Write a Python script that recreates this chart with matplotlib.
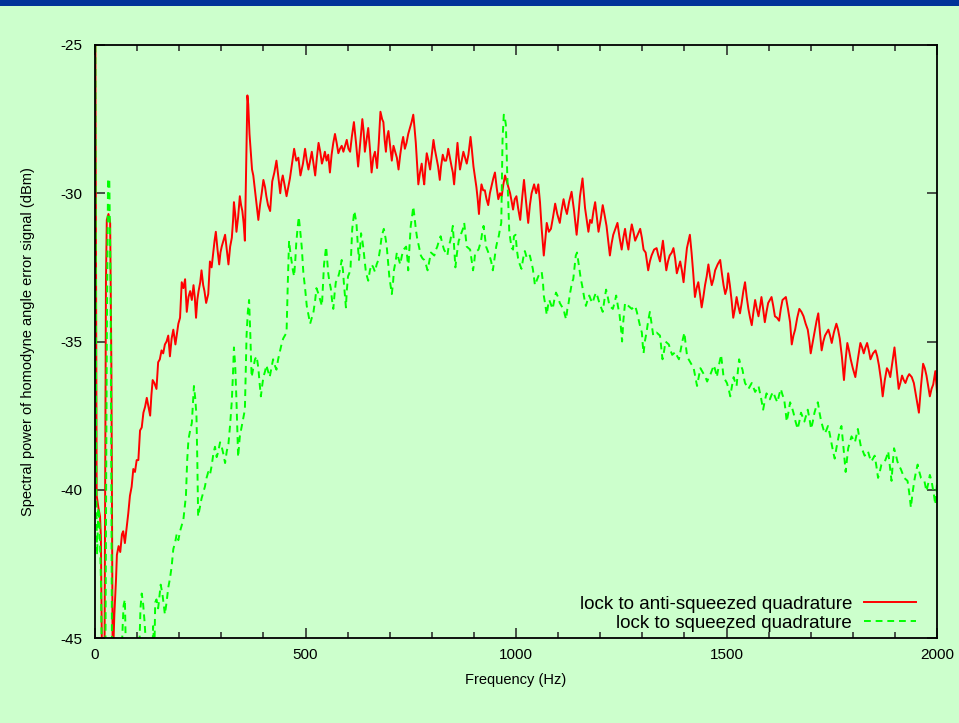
import numpy as np
import matplotlib
matplotlib.use("Agg")
import matplotlib.pyplot as plt
from matplotlib.patches import Rectangle
from matplotlib.ticker import MultipleLocator

plt.rcParams['font.family'] = ['Liberation Sans', 'DejaVu Sans']
plt.rcParams['axes.unicode_minus'] = False

# (frequency in Hz, spectral power in dBm)
anti_squeezed = [
    (0, -20), (4, -40.2), (8, -40.6), (12, -40.9), (14, -41.6), (18, -48), (22, -48),
    (26, -33), (28, -30.9), (32, -30.7), (36, -31.0), (39, -36), (42, -46), (46, -44.2),
    (50, -43.0), (52, -42.2), (56, -41.9), (60, -42.1), (64, -41.5), (67, -41.4), (71, -41.8),
    (75, -41.3), (79, -40.8), (83, -40.2), (87, -39.9), (91, -39.3), (95, -39.4), (99, -39.0),
    (103, -39.0), (107, -38.0), (111, -37.9), (115, -37.4), (119, -37.2), (123, -36.9),
    (127, -37.2), (131, -37.5), (134, -36.8), (137, -36.3), (141, -36.4), (146, -36.6),
    (150, -35.7), (154, -35.6), (158, -35.3), (162, -35.4), (166, -35.1), (170, -35.0),
    (174, -34.8), (178, -35.5), (182, -34.9), (186, -34.6), (191, -35.1), (195, -34.7),
    (198, -34.4), (202, -34.2), (206, -33.0), (210, -33.2), (214, -32.9), (218, -34.0),
    (222, -33.5), (226, -33.3), (230, -33.6), (234, -33.1), (237, -33.5), (240, -34.2),
    (243, -33.6), (246, -33.3), (250, -33.0), (253, -32.6), (257, -33.1), (260, -33.3),
    (264, -33.7), (269, -33.4), (273, -32.3), (277, -32.5), (281, -32.0), (284, -31.6),
    (287, -31.3), (291, -31.9), (295, -32.4), (298, -32.0), (301, -31.8), (305, -31.6),
    (309, -31.4), (313, -31.9), (317, -32.4), (321, -31.8), (325, -31.5), (328, -30.9),
    (330, -30.3), (333, -30.7), (336, -31.3), (340, -30.8), (344, -30.1), (347, -30.4),
    (350, -30.6), (353, -31.0), (356, -31.6), (358, -30.0), (360, -28.3), (362, -26.7),
    (364, -27.0), (367, -28.0), (370, -28.6), (373, -29.2), (376, -29.4), (380, -29.9),
    (384, -30.4), (388, -30.9), (392, -30.4), (396, -30.0), (400, -29.55), (404, -29.8),
    (407, -30.1), (411, -30.4), (416, -30.6), (421, -29.6), (426, -29.3), (431, -28.9),
    (435, -29.4), (440, -30.0), (443, -29.6), (446, -29.4), (450, -29.7), (455, -30.1),
    (459, -29.8), (463, -29.5), (468, -29.0), (473, -28.5), (478, -28.9), (483, -28.8),
    (488, -29.4), (494, -29.0), (499, -28.5), (503, -28.9), (507, -29.2), (511, -28.9),
    (515, -28.6), (519, -29.0), (523, -29.4), (527, -28.8), (531, -28.3), (535, -28.6),
    (539, -29.0), (543, -28.8), (546, -28.6), (550, -28.9), (554, -28.7), (558, -29.3),
    (562, -28.7), (566, -28.3), (570, -28.0), (574, -28.3), (578, -28.65), (582, -28.5),
    (586, -28.4), (590, -28.6), (594, -28.4), (598, -28.2), (602, -28.5), (606, -28.6),
    (610, -28.1), (615, -27.6), (620, -28.3), (625, -29.1), (630, -28.3), (635, -27.5),
    (638, -27.9), (641, -28.6), (645, -28.2), (649, -27.8), (653, -28.5), (657, -29.3),
    (661, -28.8), (665, -28.6), (670, -29.15), (674, -28.3), (678, -27.25), (682, -27.5),
    (685, -27.6), (688, -28.2), (691, -28.6), (694, -28.1), (697, -27.9), (701, -28.4),
    (705, -28.9), (709, -28.4), (713, -28.6), (717, -28.8), (721, -29.2), (725, -28.7),
    (729, -28.3), (732, -28.1), (736, -28.5), (740, -28.3), (744, -28.0), (748, -27.8),
    (752, -27.6), (756, -27.35), (759, -27.8), (762, -28.3), (765, -29.0), (768, -29.7),
    (772, -29.3), (776, -29.0), (779, -29.4), (782, -29.7), (785, -29.1), (788, -28.65),
    (792, -28.9), (796, -29.2), (800, -28.7), (804, -28.2), (807, -28.5), (811, -28.8),
    (815, -29.1), (819, -29.55), (822, -29.1), (826, -28.7), (830, -28.9), (834, -28.9),
    (837, -28.7), (839, -28.5), (843, -28.8), (847, -29.1), (850, -29.3), (853, -29.7),
    (857, -29.0), (861, -28.3), (864, -28.8), (867, -29.2), (871, -28.9), (875, -28.6),
    (879, -28.8), (883, -29.0), (887, -28.7), (892, -28.1), (895, -28.5), (899, -29.1),
    (903, -29.5), (906, -29.8), (909, -30.2), (912, -30.7), (915, -30.1), (918, -29.7),
    (922, -29.9), (926, -29.9), (930, -30.2), (934, -30.4), (938, -30.0), (942, -29.75),
    (946, -29.5), (950, -29.3), (954, -29.8), (958, -30.2), (962, -30.0), (966, -30.1),
    (970, -29.7), (974, -29.4), (978, -29.6), (982, -29.8), (986, -30.0), (990, -30.3),
    (993, -30.55), (997, -30.2), (1001, -30.1), (1005, -30.5), (1010, -30.9), (1015, -30.1),
    (1019, -29.55), (1024, -30.3), (1029, -31.0), (1033, -30.4), (1037, -30.0), (1043, -29.7),
    (1048, -30.0), (1053, -29.7), (1057, -30.3), (1061, -31.2), (1066, -32.1), (1070, -31.5),
    (1073, -31.0), (1078, -31.3), (1083, -31.2), (1088, -30.8), (1093, -30.35), (1098, -30.7),
    (1104, -31.0), (1108, -30.6), (1113, -30.2), (1117, -30.5), (1121, -30.7), (1126, -30.3),
    (1132, -29.95), (1138, -30.6), (1144, -31.4), (1148, -30.8), (1152, -30.1), (1158, -29.5),
    (1161, -30.0), (1164, -30.5), (1168, -30.9), (1172, -31.3), (1176, -30.9), (1180, -31.0),
    (1184, -30.6), (1188, -30.3), (1192, -30.8), (1196, -31.3), (1201, -30.9), (1206, -30.4),
    (1210, -30.7), (1215, -31.1), (1219, -31.6), (1223, -32.1), (1227, -31.7), (1231, -31.4),
    (1236, -31.2), (1241, -31.0), (1246, -31.5), (1251, -31.9), (1255, -31.5), (1259, -31.2),
    (1263, -31.6), (1267, -31.9), (1271, -31.4), (1275, -31.05), (1279, -31.3), (1283, -31.6),
    (1289, -31.4), (1295, -31.2), (1299, -31.5), (1303, -31.9), (1308, -32.0), (1314, -32.6),
    (1318, -32.3), (1322, -32.1), (1328, -31.9), (1334, -31.85), (1338, -32.1), (1342, -32.3),
    (1346, -31.9), (1349, -31.6), (1353, -32.1), (1357, -32.6), (1361, -32.3), (1365, -32.1),
    (1370, -32.0), (1374, -31.85), (1378, -32.2), (1382, -32.7), (1386, -32.5), (1390, -32.3),
    (1394, -32.6), (1398, -33.0), (1402, -32.4), (1406, -31.85), (1410, -31.6), (1413, -31.4),
    (1417, -32.0), (1421, -32.7), (1425, -33.5), (1429, -33.2), (1433, -33.0), (1437, -33.4),
    (1441, -33.85), (1445, -33.5), (1449, -33.1), (1453, -32.8), (1457, -32.4), (1461, -32.8),
    (1465, -33.1), (1469, -32.9), (1473, -32.6), (1479, -32.4), (1485, -32.25), (1489, -32.7),
    (1493, -33.1), (1497, -33.4), (1501, -33.2), (1504, -32.7), (1508, -33.1), (1512, -33.6),
    (1516, -34.2), (1520, -33.9), (1524, -33.5), (1528, -33.8), (1532, -34.05), (1536, -33.7),
    (1540, -33.3), (1544, -33.0), (1548, -33.5), (1552, -33.9), (1556, -34.2), (1560, -34.45),
    (1564, -34.0), (1568, -33.6), (1572, -33.9), (1576, -34.15), (1580, -33.8), (1583, -33.5),
    (1587, -33.9), (1591, -34.35), (1595, -34.0), (1599, -33.7), (1603, -33.6), (1607, -33.5),
    (1611, -33.8), (1615, -34.15), (1620, -34.2), (1625, -34.3), (1629, -33.9), (1633, -33.6),
    (1637, -33.55), (1641, -33.5), (1646, -33.9), (1651, -34.35), (1655, -35.1), (1659, -34.8),
    (1663, -34.6), (1668, -34.2), (1673, -33.9), (1678, -34.0), (1683, -34.15), (1688, -34.4),
    (1693, -34.6), (1697, -35.0), (1700, -35.4), (1705, -35.0), (1709, -34.7), (1714, -34.3),
    (1718, -34.05), (1722, -34.7), (1726, -35.3), (1730, -35.0), (1734, -34.8), (1738, -34.7),
    (1742, -34.6), (1746, -34.8), (1750, -35.05), (1755, -34.7), (1761, -34.4), (1765, -34.6),
    (1769, -34.9), (1774, -35.5), (1779, -36.3), (1783, -35.6), (1787, -35.05), (1791, -35.3),
    (1795, -35.6), (1800, -35.9), (1806, -36.2), (1812, -35.6), (1818, -35.05), (1822, -35.2),
    (1826, -35.4), (1830, -35.2), (1834, -35.05), (1838, -35.3), (1842, -35.6), (1848, -35.4),
    (1854, -35.3), (1858, -35.5), (1862, -35.8), (1867, -36.3), (1871, -36.85), (1876, -36.3),
    (1881, -35.9), (1885, -36.0), (1889, -36.2), (1894, -35.7), (1899, -35.2), (1904, -35.9),
    (1909, -36.6), (1913, -36.4), (1917, -36.15), (1921, -36.3), (1925, -36.4), (1930, -36.2),
    (1934, -36.1), (1940, -36.2), (1945, -36.4), (1951, -36.9), (1957, -37.4), (1962, -36.5),
    (1967, -35.75), (1971, -35.9), (1975, -36.15), (1979, -36.5), (1983, -36.85), (1987, -36.6),
    (1991, -36.45), (1996, -36.0), (2000, -36.7),
]

squeezed = [
    (0, -20), (3, -40.0), (5, -42.2), (8, -40.6), (11, -41.2), (14, -43.0), (18, -48),
    (24, -48), (28, -35), (31, -29.5), (34, -29.6), (37, -33), (41, -48), (55, -48),
    (62, -46), (66, -44.5), (68, -43.9), (71, -43.7), (74, -46), (84, -48), (95, -48),
    (104, -46), (108, -44.0), (111, -43.5), (114, -43.8), (118, -44.5), (124, -46),
    (132, -48), (138, -44.6), (141, -45.5), (143, -43.8), (146, -43.7), (150, -44.0),
    (153, -43.6), (156, -43.2), (160, -43.5), (166, -44.2), (170, -43.8), (174, -43.3),
    (178, -43.0), (182, -42.6), (186, -42.0), (190, -41.8), (194, -41.5), (198, -41.7),
    (202, -41.4), (206, -41.2), (210, -41.0), (213, -40.6), (216, -40.2), (219, -39.0),
    (222, -38.3), (226, -38.0), (230, -37.75), (233, -37.0), (235, -36.5), (238, -36.9),
    (241, -37.5), (243, -39.0), (245, -40.9), (249, -40.6), (253, -40.3), (257, -40.1),
    (261, -39.9), (265, -39.6), (269, -39.4), (273, -39.5), (277, -39.2), (281, -38.8),
    (285, -38.55), (289, -38.9), (293, -38.7), (297, -38.4), (301, -38.55), (305, -38.8),
    (309, -39.1), (313, -38.7), (317, -38.45), (321, -37.8), (325, -37.0), (328, -36.0),
    (330, -35.2), (333, -35.8), (336, -37.0), (338, -38.0), (340, -38.9), (344, -38.2),
    (348, -37.9), (352, -37.6), (356, -37.3), (358, -36.0), (360, -34.8), (363, -34.0),
    (366, -33.6), (369, -34.8), (372, -36.2), (376, -35.9), (380, -35.6), (384, -35.5),
    (388, -35.9), (391, -36.4), (394, -36.85), (397, -36.5), (400, -36.2), (404, -36.0),
    (407, -35.8), (411, -36.0), (415, -36.2), (419, -35.9), (423, -35.6), (427, -35.8),
    (431, -35.95), (435, -35.6), (439, -35.35), (443, -35.1), (447, -34.9), (451, -34.8),
    (455, -34.7), (458, -33.0), (461, -31.6), (464, -32.0), (467, -32.3), (470, -32.6),
    (473, -32.8), (476, -32.2), (478, -31.7), (481, -31.2), (484, -30.8), (487, -31.2),
    (491, -31.8), (495, -32.7), (499, -33.2), (503, -33.8), (507, -34.1), (511, -34.4),
    (515, -34.2), (519, -34.0), (523, -33.6), (526, -33.2), (531, -33.4), (535, -33.6),
    (539, -33.8), (542, -33.0), (544, -32.4), (549, -31.8), (554, -32.7), (557, -33.0),
    (560, -33.2), (563, -33.6), (566, -33.9), (569, -33.4), (572, -33.0), (576, -32.9),
    (580, -32.7), (583, -32.5), (586, -32.25), (589, -32.6), (591, -33.0), (596, -33.85),
    (598, -33.3), (601, -32.8), (604, -32.7), (607, -32.5), (611, -31.2), (616, -30.6),
    (621, -31.0), (624, -31.7), (627, -32.25), (630, -31.8), (632, -31.35), (635, -31.6),
    (637, -31.8), (640, -32.2), (643, -32.6), (646, -32.8), (649, -32.95), (653, -32.6),
    (657, -32.4), (661, -32.5), (665, -32.65), (669, -32.4), (673, -32.25), (677, -31.9),
    (681, -31.45), (686, -31.2), (690, -31.5), (693, -31.8), (696, -32.3), (699, -32.8),
    (702, -33.1), (705, -33.4), (708, -33.0), (710, -32.6), (714, -32.3), (717, -32.0),
    (721, -32.2), (725, -32.4), (729, -32.1), (733, -31.9), (736, -31.85), (739, -31.8),
    (742, -32.2), (744, -32.6), (747, -31.8), (750, -31.1), (753, -30.8), (756, -30.45),
    (759, -30.8), (762, -31.2), (765, -31.5), (768, -31.7), (771, -31.9), (774, -32.1),
    (778, -32.2), (782, -32.25), (786, -32.4), (790, -32.6), (794, -32.3), (798, -32.0),
    (802, -32.05), (806, -32.1), (810, -31.9), (813, -31.8), (817, -31.6), (821, -31.45),
    (825, -31.7), (829, -31.9), (833, -32.0), (837, -32.1), (840, -31.8), (844, -31.6),
    (847, -31.35), (850, -31.1), (853, -31.8), (856, -32.5), (860, -32.0), (864, -31.6),
    (867, -31.5), (870, -31.35), (874, -31.2), (877, -31.0), (880, -31.4), (883, -31.8),
    (887, -31.85), (891, -31.9), (895, -32.3), (898, -32.6), (901, -32.3), (903, -32.0),
    (907, -31.95), (911, -31.9), (914, -31.75), (917, -31.6), (920, -31.3), (923, -31.1),
    (926, -31.45), (929, -31.8), (933, -31.95), (937, -32.1), (941, -32.3), (945, -32.6),
    (949, -32.2), (953, -31.8), (956, -31.6), (959, -31.45), (962, -31.2), (965, -31.0),
    (968, -28.2), (971, -27.35), (974, -27.5), (976, -27.7), (979, -29.25), (982, -30.5),
    (984, -31.3), (987, -31.6), (990, -31.85), (993, -31.9), (995, -31.45), (999, -31.4),
    (1002, -31.9), (1005, -32.2), (1009, -32.4), (1013, -32.55), (1017, -32.2), (1021, -31.95),
    (1026, -32.2), (1029, -32.15), (1033, -32.1), (1036, -32.3), (1040, -32.55), (1045, -33.1),
    (1049, -32.95), (1053, -32.8), (1057, -32.7), (1061, -32.65), (1064, -33.0), (1066, -33.45),
    (1070, -33.8), (1073, -34.1), (1076, -33.8), (1079, -33.6), (1083, -33.75), (1087, -33.9),
    (1091, -33.6), (1095, -33.35), (1100, -33.5), (1104, -33.7), (1108, -33.8), (1113, -33.9),
    (1116, -34.1), (1119, -34.25), (1122, -33.9), (1125, -33.7), (1128, -33.4), (1130, -33.25),
    (1133, -33.0), (1136, -32.9), (1139, -32.5), (1142, -32.1), (1145, -32.0), (1148, -32.3),
    (1151, -32.6), (1154, -32.9), (1157, -33.1), (1160, -33.35), (1163, -33.6), (1166, -33.8),
    (1170, -33.6), (1174, -33.45), (1178, -33.6), (1182, -33.7), (1186, -33.5), (1190, -33.35),
    (1194, -33.5), (1198, -33.7), (1202, -33.85), (1206, -34.0), (1210, -33.6), (1214, -33.25),
    (1218, -33.5), (1222, -33.8), (1226, -33.85), (1230, -33.9), (1234, -33.7), (1238, -33.45),
    (1242, -33.8), (1246, -34.1), (1249, -34.5), (1252, -35.0), (1255, -34.3), (1259, -33.7),
    (1263, -33.75), (1267, -33.8), (1271, -33.85), (1275, -33.9), (1279, -33.85), (1283, -33.8),
    (1287, -34.0), (1291, -34.25), (1295, -34.5), (1299, -34.7), (1301, -35.1), (1303, -35.4),
    (1306, -35.0), (1310, -34.7), (1314, -34.3), (1318, -34.0), (1322, -34.4), (1326, -34.8),
    (1330, -34.75), (1334, -34.7), (1338, -34.75), (1342, -34.8), (1345, -35.2), (1348, -35.6),
    (1352, -35.3), (1355, -35.0), (1359, -35.05), (1363, -35.1), (1367, -35.3), (1371, -35.45),
    (1375, -35.4), (1379, -35.35), (1383, -35.5), (1387, -35.6), (1391, -35.3), (1395, -35.0),
    (1400, -34.7), (1403, -35.1), (1406, -35.45), (1410, -35.6), (1414, -35.7), (1418, -35.8),
    (1422, -35.9), (1426, -36.2), (1430, -36.5), (1434, -36.2), (1438, -35.9), (1442, -36.0),
    (1446, -36.1), (1450, -36.2), (1454, -36.35), (1458, -36.2), (1462, -36.1), (1466, -35.95),
    (1470, -35.8), (1474, -36.0), (1477, -36.2), (1482, -35.8), (1487, -35.45), (1490, -35.8),
    (1493, -36.2), (1497, -36.3), (1501, -36.4), (1505, -36.6), (1509, -36.85), (1513, -36.5),
    (1517, -36.2), (1520, -36.35), (1524, -36.5), (1527, -36.0), (1530, -35.6), (1534, -35.8),
    (1538, -35.95), (1541, -36.2), (1544, -36.4), (1548, -36.5), (1552, -36.6), (1556, -36.5),
    (1560, -36.4), (1564, -36.55), (1568, -36.7), (1572, -36.6), (1576, -36.5), (1582, -36.9),
    (1587, -37.3), (1591, -37.0), (1595, -36.75), (1599, -36.85), (1603, -36.95), (1607, -36.8),
    (1611, -36.7), (1616, -36.9), (1621, -37.05), (1625, -36.8), (1629, -36.6), (1633, -36.8),
    (1637, -36.95), (1640, -37.3), (1643, -37.7), (1647, -37.4), (1651, -37.05), (1655, -37.2),
    (1659, -37.4), (1664, -37.7), (1669, -37.95), (1673, -37.7), (1677, -37.4), (1681, -37.55),
    (1685, -37.7), (1689, -37.5), (1693, -37.3), (1697, -37.6), (1701, -37.95), (1705, -37.7),
    (1709, -37.4), (1713, -37.2), (1717, -37.05), (1721, -37.4), (1725, -37.7), (1729, -37.9),
    (1733, -38.1), (1737, -38.0), (1741, -37.85), (1745, -38.1), (1749, -38.4), (1753, -38.7),
    (1757, -38.95), (1761, -38.6), (1765, -38.3), (1769, -38.0), (1773, -37.85), (1778, -38.6),
    (1783, -39.4), (1786, -39.0), (1789, -38.6), (1793, -38.4), (1797, -38.2), (1801, -38.3),
    (1805, -38.4), (1808, -38.2), (1812, -37.95), (1816, -38.3), (1820, -38.6), (1824, -38.7),
    (1828, -38.85), (1832, -38.8), (1836, -38.7), (1840, -38.9), (1844, -39.05), (1848, -38.95),
    (1852, -38.85), (1856, -39.2), (1860, -39.6), (1864, -39.4), (1868, -39.15), (1872, -39.1),
    (1876, -39.05), (1880, -38.9), (1884, -38.7), (1888, -39.2), (1892, -39.7), (1895, -39.1),
    (1898, -38.6), (1902, -38.8), (1906, -39.05), (1910, -39.2), (1914, -39.3), (1918, -39.45),
    (1922, -39.6), (1926, -39.65), (1930, -39.7), (1934, -40.1), (1938, -40.6), (1942, -40.1),
    (1946, -39.7), (1950, -39.4), (1954, -39.15), (1958, -39.4), (1962, -39.6), (1966, -39.65),
    (1970, -39.7), (1975, -40.05), (1979, -39.8), (1983, -39.5), (1987, -39.7), (1990, -39.95),
    (1993, -40.2), (1996, -40.5), (2000, -39.8),
]

labels = ["lock to anti-squeezed quadrature", "lock to squeezed quadrature"]
x_ticks = [0, 500, 1000, 1500, 2000]
y_ticks = [-45, -40, -35, -30, -25]

bg = "#ccffcc"

fig = plt.figure(figsize=(9.59, 7.23), dpi=100, facecolor=bg)
# blue banner strip at the top
fig.patches.append(Rectangle((0, 1 - 6 / 723), 1, 6 / 723, transform=fig.transFigure,
                             facecolor="#003399", edgecolor="none", zorder=0))

ax = fig.add_axes([95 / 959, 1 - 638 / 723, (937 - 95) / 959, (638 - 45) / 723])
ax.set_facecolor(bg)

fa, pa = np.array(anti_squeezed).T
fs, ps = np.array(squeezed).T
ax.plot(fa, pa, color="#ff0000", lw=1.4, label=labels[0])
ax.plot(fs, ps, color="#00ff00", lw=1.4, dashes=(3.5, 2.5), label=labels[1])

ax.set_xlim(0, 2000)
ax.set_ylim(-45, -25)
ax.set_xticks(x_ticks)
ax.set_yticks(y_ticks)
ax.xaxis.set_minor_locator(MultipleLocator(100))
ax.tick_params(which="both", direction="in", top=True, right=True, labelsize=11,
               width=1.1, color="#222222")
ax.tick_params(which="major", length=7, pad=7)
ax.tick_params(which="minor", length=4)
ax.tick_params(axis="y", which="major", pad=9)
for s in ax.spines.values():
    s.set_linewidth(1.3)

ax.set_xlabel("Frequency (Hz)", fontsize=10.5, labelpad=8)
ax.set_ylabel("Spectral power of homodyne angle error signal (dBm)", fontsize=10.5, labelpad=18)

ax.legend(loc="lower right", bbox_to_anchor=(916 / 959, 1 - 632 / 723),
          bbox_transform=fig.transFigure, frameon=False, markerfirst=False,
          fontsize=13.5, handlelength=2.8, handletextpad=0.62, labelspacing=0.1,
          borderaxespad=0, borderpad=0)

fig.savefig("out.png", dpi=100, facecolor=bg)
